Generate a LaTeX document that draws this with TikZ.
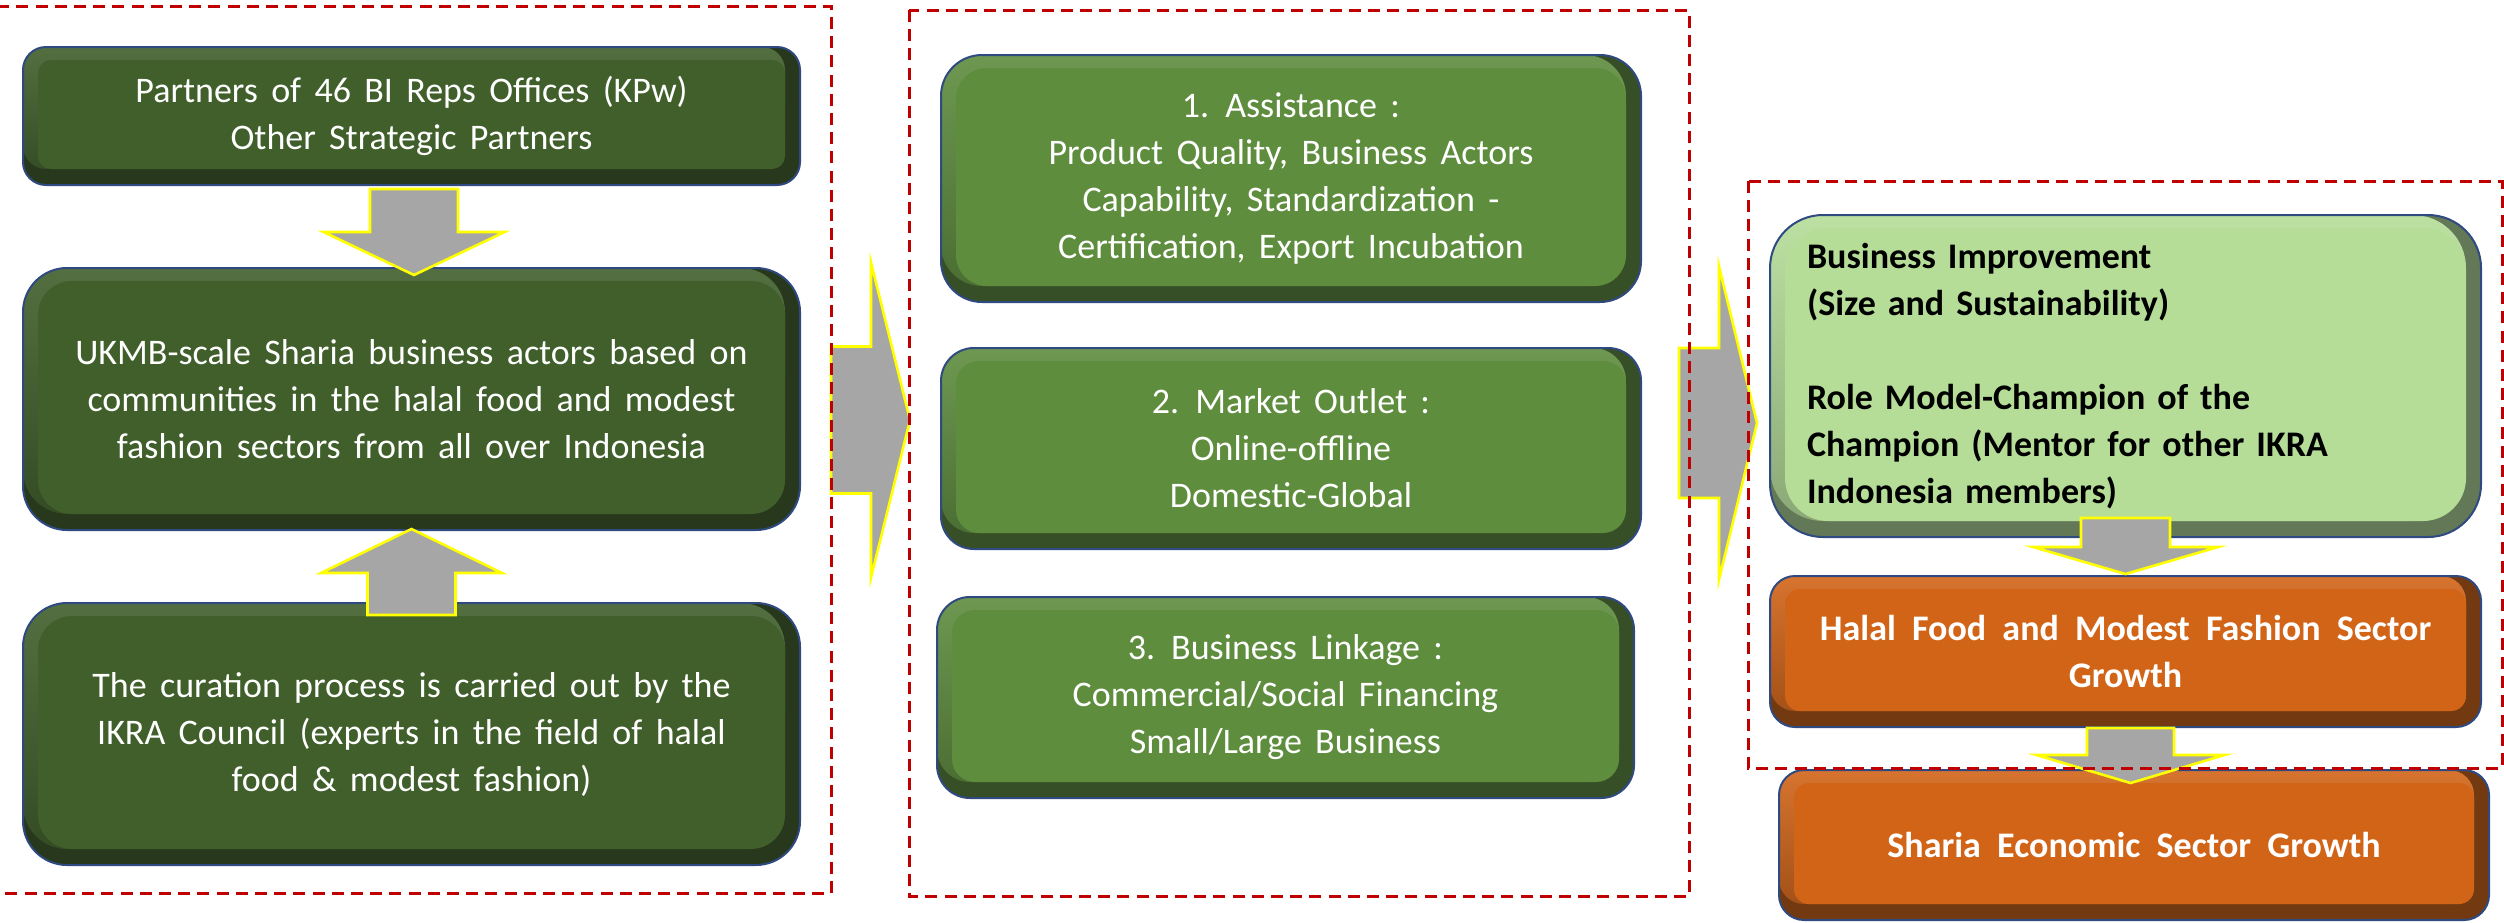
\documentclass[tikz,border=0pt]{standalone}
\usepackage{fontspec}
\setmainfont{Carlito}
\usetikzlibrary{calc}
\newdimen\px \px=0.5pt
\newcommand\regfnt{\fontsize{18}{23.5}\selectfont\spaceskip=0.37em plus 0.1em minus 0.05em\relax}
\newcommand\boldfnt{\fontsize{18}{23.5}\selectfont\bfseries\spaceskip=0.45em plus 0.1em minus 0.05em\relax}
\definecolor{boxborder}{HTML}{2F4A80}
\definecolor{dgMain}{HTML}{405F2B}
\definecolor{dgDark}{HTML}{27381C}
\definecolor{mgMain}{HTML}{5E8D3E}
\definecolor{mgDark}{HTML}{374F26}
\definecolor{lgMain}{HTML}{B5DD98}
\definecolor{lgDark}{HTML}{637856}
\definecolor{orMain}{HTML}{D26418}
\definecolor{orDark}{HTML}{733A12}
\definecolor{arrowgray}{HTML}{A6A6A6}
\definecolor{arrowedge}{HTML}{FFFF00}
\definecolor{dashred}{HTML}{C00000}
\tikzset{
  every node/.style={inner sep=0pt, outer sep=0pt},
  bevelbox/.style n args={3}{draw=boxborder, line width=1pt, fill=#3, rounded corners=#1*\px,
    path picture={
      \shade[top color=#2!90!white, bottom color=#2!45!#3, rounded corners=#1*\px] (path picture bounding box.north west) rectangle ([shift={(-15*\px,16*\px)}]path picture bounding box.south east);
      \fill[#2, rounded corners=(#1-10)*\px] ([shift={(15*\px,-13*\px)}]path picture bounding box.north west) rectangle ([shift={(-15*\px,16*\px)}]path picture bounding box.south east);
    }},
  txt/.style={font=\regfnt, align=center, text=white},
  btxt/.style={font=\boldfnt},
  blockarrow/.style={fill=arrowgray, draw=arrowedge, line width=1.3pt, line join=miter},
  grp/.style={draw=none},
  dashbox/.style={draw=dashred, line width=1.5pt, dash pattern=on 6pt off 3.6pt},
}
\newcommand\blkdown[5]{\draw[blockarrow] ($#1+(-#4,0)$) -- ++(2*#4,0) -- ++(0,#2) -- ++(#5-#4,0) -- ++(-#5,#3) -- ++(-#5,-#3) -- ++(#5-#4,0) -- cycle;}
\newcommand\blkup[5]{\draw[blockarrow] ($#1+(-#4,0)$) -- ++(2*#4,0) -- ++(0,-#2) -- ++(#5-#4,0) -- ++(-#5,-#3) -- ++(-#5,#3) -- ++(#5-#4,0) -- cycle;}
\newcommand\blkright[5]{\draw[blockarrow] ($#1+(0,-#4)$) -- ++(#2,0) -- ++(0,#4-#5) -- ++(#3,#5) -- ++(-#3,#5) -- ++(0,#4-#5) -- ++(-#2,0) -- cycle;}
\begin{document}
\begin{tikzpicture}[x=0.5pt,y=-0.5pt]
\useasboundingbox (0,0) rectangle (2504,922);
\clip (0,0) rectangle (2504,922);
% groups (outlines drawn last)
\node[grp, minimum width=841*\px, minimum height=887*\px] (G1) at (410.5,449.5) {};
\node[grp, minimum width=780*\px, minimum height=886*\px] (G2) at (1299,453) {};
\node[grp, minimum width=754*\px, minimum height=587*\px] (G3) at (2125,474.5) {};
% left column
\node[bevelbox={23}{dgMain}{dgDark}, minimum width=777*\px, minimum height=138*\px, txt] (A) at (411.5,116)
  {Partners of 46 BI Reps Offices (KPw)\\Other Strategic Partners};
\node[bevelbox={44}{dgMain}{dgDark}, minimum width=777*\px, minimum height=262*\px, txt] (B) at (411.5,399)
  {UKMB-scale Sharia business actors based on\\communities in the halal food and modest\\fashion sectors from all over Indonesia};
\node[bevelbox={44}{dgMain}{dgDark}, minimum width=777*\px, minimum height=262*\px, txt] (C) at (411.5,734)
  {The curation process is carried out by the\\IKRA Council (experts in the field of halal\\food \& modest fashion)};
% middle column
\node[bevelbox={41}{mgMain}{mgDark}, minimum width=700*\px, minimum height=247*\px, txt] (M1) at (1291,178.5)
  {1. Assistance :\\Product Quality, Business Actors\\Capability, Standardization -\\Certification, Export Incubation};
\node[bevelbox={33}{mgMain}{mgDark}, minimum width=700*\px, minimum height=201*\px, txt] (M2) at (1291,448.5)
  {2. Market Outlet :\\Online-offline\\Domestic-Global};
\node[bevelbox={33}{mgMain}{mgDark}, minimum width=697*\px, minimum height=201*\px, txt] (M3) at (1285.5,697.5)
  {3. Business Linkage :\\Commercial/Social Financing\\Small/Large Business};
% right column
\node[bevelbox={53}{lgMain}{lgDark}, minimum width=711*\px, minimum height=322*\px, btxt, text=black, align=left, text width=637*\px] (LG) at (2125.5,376)
  {Business Improvement\\(Size and Sustainability)\\[23.5pt]Role Model-Champion of the\\Champion (Mentor for other IKRA\\Indonesia members)};
\node[bevelbox={25}{orMain}{orDark}, minimum width=711*\px, minimum height=151*\px, btxt, text=white, align=center] (O1) at (2125.5,651.5)
  {Halal Food and Modest Fashion Sector\\Growth};
\node[bevelbox={25}{orMain}{orDark}, minimum width=710*\px, minimum height=150*\px, btxt, text=white, align=center] (O2) at (2134,845)
  {Sharia Economic Sector Growth};
% block arrows
\blkdown{(A.south)+(2.5,4)}{43}{43}{44}{90.5}
\blkup{(C.north)+(0,12)}{42}{44}{44}{90.5}
\blkright{(G1.east)+(0,-29.5)}{40}{39}{73.5}{157.5}
\blkright{(G2.east)+(-10,-30)}{40}{38}{75}{156.5}
\blkdown{(LG.south)+(0,-19)}{29}{27}{44.5}{92.5}
\blkdown{(O1.south)+(5,1)}{27}{28}{43.5}{94}
% dashed group outlines
\draw[dashbox] (G1.north west) rectangle (G1.south east);
\draw[dashbox] (G2.north west) rectangle (G2.south east);
\draw[dashbox] (G3.north west) rectangle (G3.south east);
\end{tikzpicture}
\end{document}
